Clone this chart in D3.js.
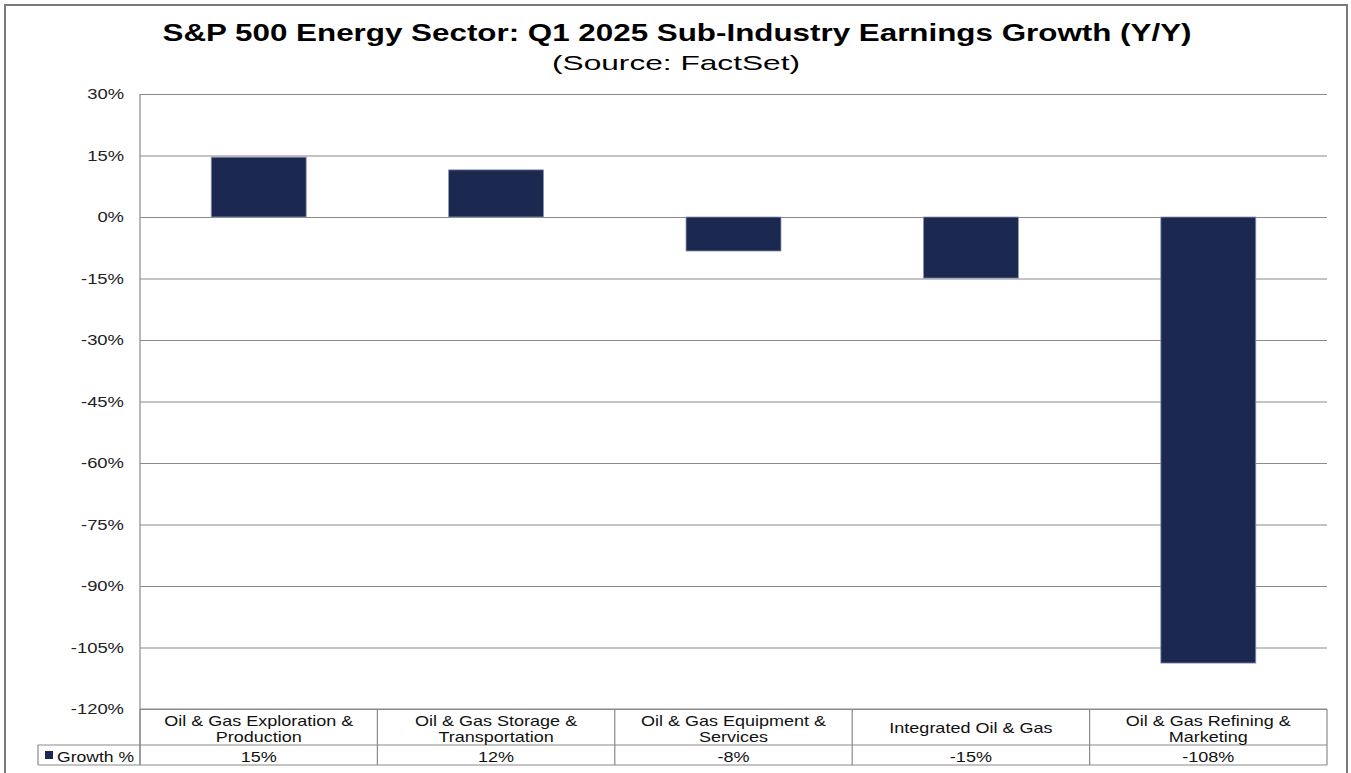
<!DOCTYPE html>
<html>
<head>
<meta charset="utf-8">
<script src="https://cdn.jsdelivr.net/npm/d3@7"></script>
<style>
  body { margin: 0; background: #fff; }
  svg { display: block; font-family: "Liberation Sans", Arial, sans-serif; }
</style>
</head>
<body>
<svg id="chart" width="1351" height="773"></svg>
<script>
const categories = [
  ["Oil & Gas Exploration &", "Production"],
  ["Oil & Gas Storage &", "Transportation"],
  ["Oil & Gas Equipment &", "Services"],
  ["Integrated Oil & Gas"],
  ["Oil & Gas Refining &", "Marketing"]
];
const growth = [14.6, 11.5, -8.3, -14.9, -108.8];
const growthLabels = ["15%", "12%", "-8%", "-15%", "-108%"];
const yTicks = [30, 15, 0, -15, -30, -45, -60, -75, -90, -105, -120];
const seriesName = "Growth %";

const W = 1351, H = 773;
const margin = { left: 140, right: 24, top: 94, bottom: 64 };
const barColor = "#1b2951";
const gridColor = "#8a8a8a";

const svg = d3.select("#chart");

// the source picture is stretched sideways, so widen the glyphs to match
function stretch(sel, k) {
  sel.each(function () {
    const w = this.getComputedTextLength();
    d3.select(this).attr("textLength", w * k).attr("lengthAdjust", "spacingAndGlyphs");
  });
}

// outer frame
svg.append("rect")
    .attr("x", 5).attr("y", 5)
    .attr("width", 1342).attr("height", 780)
    .attr("fill", "none")
    .attr("stroke", "#7a7a7a")
    .attr("stroke-width", 2);

svg.append("text")
    .attr("x", 677).attr("y", 41)
    .attr("text-anchor", "middle")
    .attr("font-size", 24).attr("font-weight", "bold")
    .attr("textLength", 1029).attr("lengthAdjust", "spacingAndGlyphs")
    .text("S&P 500 Energy Sector: Q1 2025 Sub-Industry Earnings Growth (Y/Y)");

svg.append("text")
    .attr("x", 676).attr("y", 70)
    .attr("text-anchor", "middle")
    .attr("font-size", 21)
    .attr("textLength", 248).attr("lengthAdjust", "spacingAndGlyphs")
    .text("(Source: FactSet)");

const x = d3.scaleBand()
    .domain(d3.range(categories.length))
    .range([margin.left, W - margin.right])
    .paddingInner(0.6).paddingOuter(0.3);

const y = d3.scaleLinear()
    .domain([-120, 30])
    .range([709, margin.top]);

// gridlines + y labels
const yAxis = svg.append("g")
    .attr("transform", `translate(${margin.left},0)`)
    .call(d3.axisLeft(y).tickValues(yTicks)
      .tickSize(-(W - margin.right - margin.left))
      .tickPadding(16)
      .tickFormat(d => d + "%"));
yAxis.select(".domain").remove();
yAxis.selectAll(".tick line").attr("stroke", gridColor).attr("stroke-width", 1.2);
yAxis.selectAll(".tick text")
    .attr("font-size", 14.5).attr("fill", "#222")
    .attr("font-family", "\"Liberation Sans\", Arial, sans-serif")
    .call(stretch, 1.27);

// left axis line
svg.append("line")
    .attr("x1", margin.left).attr("x2", margin.left)
    .attr("y1", y(30)).attr("y2", 765)
    .attr("stroke", gridColor).attr("stroke-width", 1.2);

// bars
svg.append("g")
  .selectAll("rect")
  .data(growth)
  .join("rect")
    .attr("x", (d, i) => x(i))
    .attr("width", x.bandwidth())
    .attr("y", d => y(Math.max(0, d)))
    .attr("height", d => Math.abs(y(d) - y(0)))
    .attr("fill", barColor)
    .attr("stroke", "#8e97b3")
    .attr("stroke-width", 0.8);

// data table under the plot
const step = (W - margin.right - margin.left) / categories.length;
const tTop = 709, tMid = 745, tBot = 765, legLeft = 38;
const table = svg.append("g")
    .attr("stroke", gridColor).attr("stroke-width", 1.2).attr("fill", "none");
table.append("line").attr("x1", margin.left).attr("x2", W - margin.right).attr("y1", tTop).attr("y2", tTop);
table.append("line").attr("x1", legLeft).attr("x2", W - margin.right).attr("y1", tMid).attr("y2", tMid);
table.append("line").attr("x1", legLeft).attr("x2", W - margin.right).attr("y1", tBot).attr("y2", tBot);
table.append("line").attr("x1", legLeft).attr("x2", legLeft).attr("y1", tMid).attr("y2", tBot);
d3.range(categories.length + 1).forEach(i => {
  table.append("line")
      .attr("x1", margin.left + i * step).attr("x2", margin.left + i * step)
      .attr("y1", tTop).attr("y2", tBot);
});

const cats = svg.append("g").attr("font-size", 15).attr("fill", "#111").attr("text-anchor", "middle");
categories.forEach((lines, i) => {
  const cx = margin.left + (i + 0.5) * step;
  const startY = lines.length === 1 ? 733 : 726;
  lines.forEach((t, j) => {
    cats.append("text").attr("x", cx).attr("y", startY + j * 15.5).text(t);
  });
  cats.append("text").attr("x", cx).attr("y", 762).text(growthLabels[i]);
});
cats.selectAll("text").call(stretch, 1.2);

svg.append("rect")
    .attr("x", 45).attr("y", 751).attr("width", 8).attr("height", 8)
    .attr("fill", barColor);
svg.append("text")
    .attr("x", 57).attr("y", 762)
    .attr("font-size", 15).attr("fill", "#111")
    .text(seriesName)
    .call(stretch, 1.17);
</script>
</body>
</html>
